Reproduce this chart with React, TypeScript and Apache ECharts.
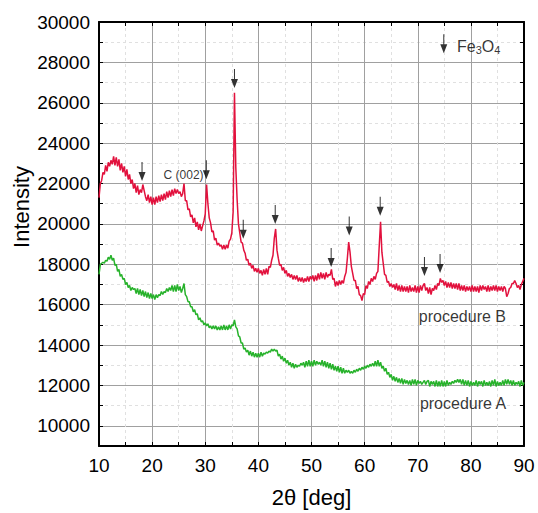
import React, { useEffect, useRef } from "react";
import * as echarts from "echarts";

// 2θ sampling of the scans (degrees)
const X_START = 10;
const X_STEP = 0.25;

// procedure B (red) intensity, 10°..90° every 0.25°
const procedureB: number[] = [
  21300, 22000, 22150, 22550,
  22450, 22900, 22600, 23050,
  22850, 23150, 22950, 23350,
  22900, 23300, 22850, 23200,
  22650, 23000, 22550, 22850,
  22350, 22700, 22200, 22450,
  22000, 22200, 21750, 22000,
  21550, 21900, 21450, 21700,
  21550, 21950, 21650, 21350,
  21150, 21450, 21050, 21350,
  20950, 21300, 20950, 21350,
  21050, 21400, 21100, 21450,
  21150, 21500, 21200, 21600,
  21300, 21650, 21350, 21700,
  21400, 21750, 21500, 21700,
  21500, 21600, 21350, 21500,
  22000, 21150, 21150, 20700,
  20750, 20350, 20450, 20050,
  20300, 19850, 20100, 19700,
  20000, 19650, 19900, 20150,
  20500, 21950, 21000, 20300,
  20050, 19600, 19650, 19200,
  19300, 18950, 19050, 18900,
  18950, 18750, 18950, 18750,
  18950, 18800, 19150, 19250,
  19550, 20600, 26500, 22800,
  21200, 20000, 19550, 19100,
  19050, 18700, 18550, 18200,
  18250, 17950, 18050, 17800,
  17950, 17650, 17800, 17600,
  17800, 17550, 17700, 17450,
  17750, 17500, 17800, 17500,
  17900, 17850, 18200, 18450,
  19300, 19750, 18700, 18300,
  17950, 18000, 17700, 17850,
  17550, 17700, 17400, 17550,
  17350, 17500, 17250, 17450,
  17250, 17450, 17150, 17350,
  17150, 17350, 17100, 17300,
  17150, 17400, 17150, 17400,
  17250, 17450, 17150, 17450,
  17200, 17550, 17250, 17600,
  17300, 17550, 17250, 17600,
  17350, 17500, 17450, 17750,
  17250, 17300, 16900, 17150,
  16950, 17200, 17000, 17200,
  17050, 17400, 17600, 18300,
  19100, 18600, 17900, 17550,
  17200, 17200, 16800, 16900,
  16500, 16450, 16200, 16550,
  16500, 16950, 16800, 17150,
  17000, 17300, 17150, 17400,
  17250, 17550, 17650, 18900,
  20100, 18600, 18050, 17500,
  17450, 17100, 17150, 16900,
  17050, 16850, 17000, 16750,
  17050, 16700, 16950, 16650,
  16950, 16650, 16900, 16650,
  16900, 16600, 16950, 16650,
  16850, 16650, 16950, 16600,
  16900, 16600, 16950, 16700,
  16950, 17050, 16700, 16850,
  16550, 16850, 16500, 16800,
  16700, 16950, 16750, 17050,
  16950, 17300, 17100, 17200,
  16950, 17150, 16850, 17100,
  16850, 17100, 16800, 17050,
  16800, 17050, 16750, 17050,
  16700, 16950, 16700, 16950,
  16650, 16900, 16700, 16900,
  16650, 16950, 16650, 16900,
  16650, 16900, 16600, 16950,
  16700, 16950, 16750, 16900,
  16650, 16950, 16650, 16900,
  16700, 16950, 16700, 16950,
  16650, 16900, 16700, 16900,
  16650, 16900, 16800, 16400,
  16550, 16800, 16850, 17050,
  17050, 17200, 17050, 16850,
  16950, 16750, 17000, 17150,
  17300,
];

// procedure A (green) intensity, 10°..90° every 0.25°
const procedureA: number[] = [
  17500, 18000, 18050, 18100,
  18050, 18200, 18150, 18350,
  18250, 18450, 18200, 18300,
  17950, 18000, 17650, 17750,
  17400, 17500, 17250, 17300,
  17000, 17100, 16850, 16950,
  16700, 16850, 16750, 16800,
  16550, 16800, 16500, 16750,
  16450, 16700, 16400, 16650,
  16350, 16600, 16300, 16550,
  16300, 16500, 16250, 16500,
  16350, 16500, 16450, 16650,
  16500, 16650, 16600, 16800,
  16650, 16850, 16700, 16950,
  16650, 16950, 16650, 17000,
  16700, 16900, 16600, 16800,
  17050, 16500, 16400, 16150,
  16150, 15900, 15900, 15650,
  15750, 15500, 15550, 15250,
  15350, 15150, 15200, 15000,
  15100, 14950, 15050, 14850,
  14950, 14800, 14950, 14800,
  14950, 14750, 14900, 14750,
  14950, 14750, 15000, 14750,
  14950, 14750, 15000, 14800,
  15000, 14950, 15250, 14900,
  14800, 14450, 14400, 14100,
  14100, 13800, 13850, 13650,
  13750, 13500, 13700, 13450,
  13650, 13400, 13600, 13400,
  13600, 13400, 13650, 13450,
  13600, 13550, 13650, 13600,
  13700, 13650, 13800, 13700,
  13800, 13700, 13750, 13450,
  13550, 13300, 13450, 13200,
  13350, 13100, 13250, 13000,
  13150, 12900, 13100, 12850,
  13050, 12900, 13000, 12950,
  13100, 13000, 13150, 12900,
  13200, 12950, 13250, 12950,
  13200, 12950, 13250, 13000,
  13200, 13050, 13150, 13000,
  13250, 12950, 13200, 12900,
  13150, 12850, 13100, 12800,
  13050, 12750, 12950, 12700,
  12950, 12650, 12900, 12600,
  12850, 12600, 12750, 12650,
  12750, 12600, 12700, 12600,
  12750, 12650, 12800, 12700,
  12850, 12750, 12900, 12800,
  12950, 12850, 13000, 12900,
  13050, 12950, 13100, 12950,
  13200, 12950, 13250, 12950,
  13150, 12850, 12950, 12700,
  12850, 12550, 12650, 12400,
  12550, 12250, 12450, 12200,
  12400, 12150, 12350, 12100,
  12350, 12050, 12300, 12100,
  12250, 12050, 12250, 12000,
  12300, 12050, 12300, 12000,
  12250, 12100, 12200, 12050,
  12150, 12250, 12050, 12200,
  12250, 11950, 12200, 12050,
  12200, 11950, 12250, 11950,
  12200, 11950, 12250, 11950,
  12200, 11950, 12250, 12000,
  12150, 12050, 12200, 12100,
  12250, 12150, 12300, 12150,
  12300, 12050, 12300, 12000,
  12250, 12000, 12250, 11950,
  12200, 12000, 12150, 12000,
  12250, 11950, 12200, 12050,
  12200, 11950, 12250, 12000,
  12150, 12000, 12200, 11950,
  12250, 12000, 12300, 11950,
  12200, 12000, 12150, 12000,
  12250, 12000, 12300, 12050,
  12300, 12050, 12250, 12000,
  12250, 12000, 12150, 12050,
  12200, 11950, 12250, 12000,
  12150,
];

// Fe3O4 reflection markers: [2θ, arrow tip intensity]
const fe3o4Peaks: [number, number][] = [
  [18.1, 22130],
  [30.2, 22217],
  [35.5, 26734],
  [37.15, 19260],
  [43.17, 20000],
  [53.7, 17867],
  [57.1, 19424],
  [62.93, 20410],
  [71.26, 17424],
  [74.2, 17570],
];
const legendArrow: [number, number][] = [[74.9, 28458]];

// text annotations: [2θ, intensity, text]
const annotations: [number, number, string][] = [
  [22.15, 22413, "C (002)"],
  [70.2, 15404, "procedure B"],
  [70.4, 11098, "procedure A"],
];
const legendText: [number, number] = [77.4, 28800];

const X_MIN = 10;
const X_MAX = 90;
const Y_MIN = 9000;
const Y_MAX = 30000;

const RED = "#e2113d";
const GREEN = "#27b22b";
const TEXT = "#000";
const FONT = "'Liberation Sans', Arial, Helvetica, sans-serif";
const ARROW =
  "path://M2.5,0 L3.5,0 L3.5,10 L6.5,10 L3,19 L-0.5,10 L2.5,10 Z";

export default function App() {
  const ref = useRef<HTMLDivElement>(null);

  useEffect(() => {
    if (!ref.current) return;
    const chart = echarts.init(ref.current, undefined, { renderer: "svg" });

    const toXY = (arr: number[]) =>
      arr.map((v, i) => [X_START + i * X_STEP, v]);

    const axisLineStyle = { color: "#000", width: 2 };
    const tickStyle = { color: "#000", width: 1 };
    const majorGrid = {
      show: true,
      showMinLine: false,
      showMaxLine: false,
      lineStyle: { color: "#a0a0a0", width: 1 },
    };
    const minorGrid = {
      show: true,
      lineStyle: { color: "#e0e0e0", width: 1, type: [3, 3] },
    };

    const option: any = {
      animation: false,
      backgroundColor: "#fff",
      textStyle: { fontFamily: FONT },
      grid: { left: 99, right: 14, top: 22, bottom: 65, containLabel: false },
      xAxis: [
        {
          type: "value",
          min: X_MIN,
          max: X_MAX,
          interval: 10,
          position: "bottom",
          name: "2\u03B8 [deg]",
          nameLocation: "middle",
          nameGap: 40,
          nameTextStyle: { fontSize: 22, color: TEXT, fontFamily: FONT },
          axisLine: { show: true, onZero: false, lineStyle: axisLineStyle },
          axisTick: { show: true, inside: true, length: 4, lineStyle: tickStyle },
          minorTick: { show: true, splitNumber: 2, length: 4, lineStyle: tickStyle },
          axisLabel: {
            fontSize: 19,
            color: TEXT,
            margin: 10,
            fontFamily: FONT,
            formatter: (v: number) => String(v),
          },
          splitLine: majorGrid,
          minorSplitLine: minorGrid,
        },
        {
          type: "value",
          min: X_MIN,
          max: X_MAX,
          interval: 10,
          position: "top",
          axisLine: { show: true, onZero: false, lineStyle: axisLineStyle },
          axisTick: { show: true, inside: true, length: 4, lineStyle: tickStyle },
          minorTick: { show: true, splitNumber: 2, length: 4, lineStyle: tickStyle },
          axisLabel: { show: false },
          splitLine: { show: false },
        },
      ],
      yAxis: [
        {
          type: "value",
          min: Y_MIN,
          max: Y_MAX,
          splitNumber: 10,
          position: "left",
          axisLine: { show: true, onZero: false, lineStyle: axisLineStyle },
          axisTick: { show: true, inside: true, length: 4, lineStyle: tickStyle },
          minorTick: { show: true, splitNumber: 2, length: 4, lineStyle: tickStyle },
          axisLabel: {
            fontSize: 19,
            color: TEXT,
            margin: 9,
            showMinLabel: false,
            fontFamily: FONT,
            formatter: (v: number) => String(v),
          },
          splitLine: majorGrid,
          minorSplitLine: minorGrid,
        },
        {
          type: "value",
          min: Y_MIN,
          max: Y_MAX,
          splitNumber: 10,
          position: "right",
          axisLine: { show: true, onZero: false, lineStyle: axisLineStyle },
          axisTick: { show: true, inside: true, length: 4, lineStyle: tickStyle },
          minorTick: { show: true, splitNumber: 2, length: 4, lineStyle: tickStyle },
          axisLabel: { show: false },
          splitLine: { show: false },
        },
      ],
      graphic: [
        {
          type: "text",
          x: 21,
          y: 207,
          rotation: Math.PI / 2,
          style: {
            text: "Intensity",
            font: `22px ${FONT}`,
            fill: TEXT,
            textAlign: "center",
            textVerticalAlign: "middle",
          },
        },
      ],
      series: [
        {
          name: "procedure A",
          type: "line",
          data: toXY(procedureA),
          showSymbol: false,
          symbol: "none",
          lineStyle: { color: GREEN, width: 1.5 },
          z: 3,
        },
        {
          name: "procedure B",
          type: "line",
          data: toXY(procedureB),
          showSymbol: false,
          symbol: "none",
          lineStyle: { color: RED, width: 1.5 },
          z: 3,
        },
        {
          name: "Fe3O4",
          type: "scatter",
          data: [...fe3o4Peaks, ...legendArrow],
          symbol: ARROW,
          symbolSize: [7, 19],
          symbolOffset: [0, -9.5],
          itemStyle: { color: "#000" },
          z: 5,
          silent: true,
        },
        {
          name: "labels",
          type: "scatter",
          symbolSize: 0,
          z: 6,
          silent: true,
          data: [
            ...annotations.map(([x, y, t]) => ({
              value: [x, y],
              label: {
                show: true,
                position: "right",
                distance: 0,
                formatter: t,
                fontSize: t.startsWith("C") ? 12 : 16,
                color: TEXT,
                fontFamily: FONT,
              },
            })),
            {
              value: legendText,
              label: {
                show: true,
                position: "right",
                distance: 0,
                formatter: "{a|Fe}{s|3}{a|O}{s|4}",
                rich: {
                  a: { fontSize: 16, lineHeight: 18, color: TEXT, fontFamily: FONT, verticalAlign: "middle" },
                  s: { fontSize: 11, lineHeight: 6, color: TEXT, fontFamily: FONT, verticalAlign: "bottom" },
                },
              },
            },
          ],
        },
      ],
    };

    chart.setOption(option);
    return () => chart.dispose();
  }, []);

  return (
    <div
      ref={ref}
      style={{ position: "fixed", left: 0, top: 0, width: 538, height: 513 }}
    />
  );
}
